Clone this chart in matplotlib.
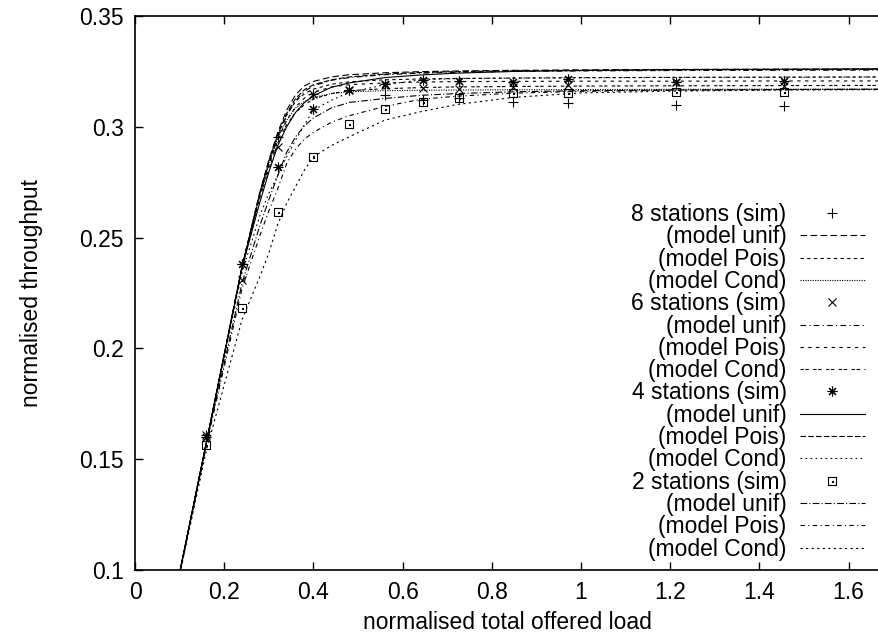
from __future__ import annotations

import matplotlib

matplotlib.use("Agg")
import matplotlib.pyplot as plt
from matplotlib.path import Path

# offered load at which the simulations were run
load_sim = [0.16, 0.24, 0.32, 0.40, 0.48, 0.56, 0.646, 0.727, 0.848, 0.97, 1.212, 1.455]

sim_8 = [0.161, 0.238, 0.2953, 0.3148, 0.3166, 0.3143, 0.3122, 0.3129, 0.3113, 0.3106, 0.3098, 0.3095]
sim_6 = [0.161, 0.231, 0.2907, 0.3148, 0.3166, 0.3189, 0.3174, 0.3169, 0.3181, 0.3189, 0.3200, 0.3186]
sim_4 = [0.160, 0.238, 0.2820, 0.3080, 0.3166, 0.3193, 0.3211, 0.3208, 0.3204, 0.3214, 0.3204, 0.3205]
sim_2 = [0.1564, 0.2181, 0.2616, 0.2865, 0.3011, 0.3079, 0.3113, 0.3129, 0.3151, 0.3154, 0.3156, 0.3158]

# offered load grid for the analytical models
load_model = [0.08, 0.16, 0.24, 0.28, 0.30, 0.32, 0.34, 0.36, 0.38, 0.40,
              0.44, 0.48, 0.56, 0.64, 0.72, 0.85, 1.0, 1.2, 1.45, 1.7]

m8_unif = [0.079, 0.1575, 0.2370, 0.2705, 0.2850, 0.2975, 0.3075, 0.3145, 0.3185, 0.3205,
           0.3225, 0.3235, 0.3244, 0.3249, 0.3252, 0.3255, 0.3257, 0.3259, 0.3260, 0.3261]
m8_pois = [0.079, 0.1575, 0.2368, 0.2700, 0.2840, 0.2965, 0.3055, 0.3115, 0.3150, 0.3170,
           0.3192, 0.3203, 0.3212, 0.3216, 0.3218, 0.3220, 0.3222, 0.3223, 0.3224, 0.3225]
m8_cond = [0.079, 0.1575, 0.2365, 0.2695, 0.2835, 0.2950, 0.3030, 0.3085, 0.3115, 0.3132,
           0.3150, 0.3158, 0.3163, 0.3165, 0.3166, 0.3167, 0.3168, 0.3169, 0.3170, 0.3170]
m6_unif = [0.079, 0.1575, 0.2368, 0.2695, 0.2835, 0.2955, 0.3050, 0.3118, 0.3160, 0.3185,
           0.3210, 0.3222, 0.3235, 0.3242, 0.3246, 0.3250, 0.3252, 0.3254, 0.3255, 0.3256]
m6_pois = [0.079, 0.1575, 0.2365, 0.2690, 0.2825, 0.2940, 0.3030, 0.3090, 0.3130, 0.3155,
           0.3180, 0.3190, 0.3198, 0.3202, 0.3204, 0.3205, 0.3206, 0.3206, 0.3207, 0.3207]
m6_cond = [0.079, 0.1575, 0.2360, 0.2680, 0.2810, 0.2925, 0.3010, 0.3065, 0.3100, 0.3125,
           0.3150, 0.3163, 0.3172, 0.3177, 0.3180, 0.3182, 0.3184, 0.3185, 0.3186, 0.3187]
m4_unif = [0.079, 0.1575, 0.2365, 0.2660, 0.2795, 0.2915, 0.3000, 0.3065, 0.3110, 0.3140,
           0.3178, 0.3198, 0.3222, 0.3234, 0.3242, 0.3250, 0.3254, 0.3258, 0.3260, 0.3262]
m4_pois = [0.079, 0.1575, 0.2370, 0.2705, 0.2845, 0.2965, 0.3060, 0.3128, 0.3168, 0.3190,
           0.3212, 0.3225, 0.3238, 0.3245, 0.3249, 0.3253, 0.3255, 0.3257, 0.3258, 0.3259]
m4_cond = [0.079, 0.1570, 0.2345, 0.2600, 0.2700, 0.2780, 0.2865, 0.2940, 0.3010, 0.3075,
           0.3120, 0.3155, 0.3190, 0.3212, 0.3218, 0.3220, 0.3221, 0.3223, 0.3224, 0.3225]
m2_unif = [0.079, 0.1570, 0.2295, 0.2555, 0.2670, 0.2780, 0.2885, 0.2955, 0.3005, 0.3040,
           0.3085, 0.3110, 0.3128, 0.3142, 0.3150, 0.3158, 0.3163, 0.3166, 0.3168, 0.3170]
m2_pois = [0.079, 0.1565, 0.2270, 0.2510, 0.2620, 0.2720, 0.2835, 0.2900, 0.2945, 0.2975,
           0.3020, 0.3050, 0.3092, 0.3124, 0.3138, 0.3152, 0.3160, 0.3165, 0.3168, 0.3169]
m2_cond = [0.079, 0.1540, 0.2130, 0.2325, 0.2430, 0.2560, 0.2655, 0.2730, 0.2805, 0.2865,
           0.2915, 0.2955, 0.3030, 0.3068, 0.3100, 0.3133, 0.3153, 0.3161, 0.3166, 0.3168]

x_ticks = [0, 0.2, 0.4, 0.6, 0.8, 1.0, 1.2, 1.4, 1.6]
x_tick_labels = ["0", "0.2", "0.4", "0.6", "0.8", "1", "1.2", "1.4", "1.6"]
y_ticks = [0.1, 0.15, 0.2, 0.25, 0.3, 0.35]
y_tick_labels = ["0.1", "0.15", "0.2", "0.25", "0.3", "0.35"]

# gnuplot's point type 4: open square with a dot in the middle
BOX_DOT = Path(
    [(-1, -1), (1, -1), (1, 1), (-1, 1), (-1, -1),
     (-0.12, -0.12), (0.12, -0.12), (0.12, 0.12), (-0.12, 0.12), (-0.12, -0.12)],
    [Path.MOVETO, Path.LINETO, Path.LINETO, Path.LINETO, Path.CLOSEPOLY,
     Path.MOVETO, Path.LINETO, Path.LINETO, Path.LINETO, Path.CLOSEPOLY],
)


def main() -> None:
    plt.rcParams["font.family"] = ["Liberation Sans", "DejaVu Sans"]
    plt.rcParams["font.size"] = 16.5

    fig = plt.figure(figsize=(8.79, 6.41), dpi=100)
    ax = fig.add_axes([0.1536, 0.1108, 1 - 0.1536, 0.975 - 0.1108])

    lw = 0.8
    groups = [
        ("8 stations (sim)", sim_8, dict(marker="+", ms=7),
         [(m8_unif, (0, (6, 3))), (m8_pois, (0, (3, 3))), (m8_cond, (0, (1, 1.2)))]),
        ("6 stations (sim)", sim_6, dict(marker="x", ms=5.5),
         [(m6_unif, (0, (5, 3, 1, 3))), (m6_pois, (0, (3, 4))), (m6_cond, (0, (3, 1.5, 3, 4)))]),
        ("4 stations (sim)", sim_4, dict(marker=(8, 2, 0), ms=7),
         [(m4_unif, "-"), (m4_pois, (0, (5, 2))), (m4_cond, (0, (1.5, 3)))]),
        ("2 stations (sim)", sim_2, dict(marker=BOX_DOT, ms=6, fillstyle="none"),
         [(m2_unif, (0, (6, 2, 1, 2))), (m2_pois, (0, (4, 3, 1, 3))), (m2_cond, (0, (2, 3)))]),
    ]
    model_names = ["(model unif)", "(model Pois)", "(model Cond)"]

    for label, sim, mstyle, models in groups:
        ax.plot(load_sim, sim, ls="none", color="black", mew=lw, label=label, **mstyle)
        for name, (values, dash) in zip(model_names, models):
            ax.plot(load_model, values, color="black", lw=lw, ls=dash, label=name)

    ax.set_xlim(0, 1.668)
    ax.set_ylim(0.1, 0.35)
    ax.set_xticks(x_ticks)
    ax.set_xticklabels(x_tick_labels)
    ax.set_yticks(y_ticks)
    ax.set_yticklabels(y_tick_labels)
    ax.tick_params(direction="in", length=6, width=1, top=True, right=False, pad=8)
    ax.spines["right"].set_visible(False)
    for side in ("left", "bottom", "top"):
        ax.spines[side].set_linewidth(1.2)

    ax.set_xlabel("normalised total offered load", labelpad=5)
    ax.set_ylabel("normalised throughput", labelpad=26)

    ax.legend(loc="lower right", bbox_to_anchor=(0.999, -0.008), frameon=False,
              markerfirst=False, handlelength=2.8, handletextpad=0.6,
              labelspacing=-0.03, borderpad=0.1, fontsize=16.5)

    fig.savefig("out.png", dpi=100)
    plt.close(fig)


if __name__ == "__main__":
    main()
